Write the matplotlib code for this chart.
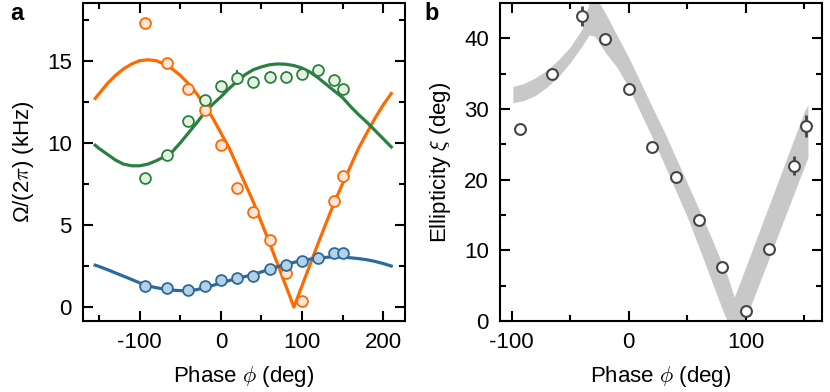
import numpy as np
import matplotlib
matplotlib.use('Agg')
import matplotlib.pyplot as plt

plt.rcParams['font.family'] = ['Liberation Sans', 'DejaVu Sans']
plt.rcParams['mathtext.fontset'] = 'cm'
plt.rcParams['axes.unicode_minus'] = False
plt.rcParams['font.size'] = 16

# ---- panel a: measured points ----
phase_pts = [-93, -66, -40, -20, 0, 20, 40, 60, 80, 100, 120, 140, 150]
orange_pts = [17.3, 14.85, 13.3, 12.0, 9.85, 7.25, 5.78, 4.07, 2.07, 0.36, None, 6.44, 8.0]
orange_err = [0.3, 0.1, 0.1, 0.1, 0.1, 0.1, 0.1, 0.1, 0.1, 0.1, None, 0.1, 0.1]
green_pts = [7.84, 9.24, 11.3, 12.6, 13.45, 13.96, 13.7, 14.0, 14.0, 14.2, 14.45, 13.8, 13.3]
green_err = [0.1, 0.1, 0.1, 0.25, 0.3, 0.45, 0.1, 0.35, 0.35, 0.15, 0.15, 0.2, 0.15]
blue_pts = [1.28, 1.15, 1.03, 1.28, 1.64, 1.76, 1.9, 2.3, 2.57, 2.8, 2.96, 3.28, 3.28]

# ---- panel a: fitted curves ----
phase_fit = [-155, -150, -140, -130, -120, -110, -100, -90, -80, -70, -60, -50,
             -40, -30, -20, -10, 0, 10, 20, 30, 40, 50, 60, 70, 80, 90, 100,
             110, 120, 130, 140, 150, 160, 170, 180, 190, 200, 210]
orange_fit = [12.7, 13.0, 13.6, 14.1, 14.5, 14.8, 15.0, 15.05, 15.0, 14.8, 14.5, 14.1,
              13.6, 13.0, 12.3, 11.5, 10.6, 9.7, 8.6, 7.5, 6.4, 5.15, 3.9, 2.6, 1.3, 0.0, 1.3,
              2.6, 3.9, 5.15, 6.4, 7.5, 8.6, 9.7, 10.6, 11.5, 12.3, 13.0]
green_fit = [9.85, 9.65, 9.3, 8.95, 8.7, 8.6, 8.6, 8.7, 8.9, 9.15, 9.45, 10.0,
             10.6, 11.2, 11.85, 12.35, 12.8, 13.3, 13.75, 14.15, 14.45, 14.62, 14.75, 14.8, 14.78, 14.7, 14.55,
             14.3, 13.95, 13.55, 13.15, 12.75, 12.2, 11.7, 11.25, 10.75, 10.25, 9.75]
blue_fit = [2.55, 2.47, 2.28, 2.08, 1.88, 1.68, 1.47, 1.3, 1.18, 1.1, 1.03, 1.0,
            0.99, 1.06, 1.18, 1.32, 1.47, 1.61, 1.74, 1.86, 1.98, 2.14, 2.3, 2.46, 2.6, 2.72, 2.84,
            2.92, 2.98, 3.03, 3.06, 3.04, 3.0, 2.95, 2.88, 2.78, 2.65, 2.5]

# ---- panel b ----
phase_b = [-93, -66, -40, -20, 0, 20, 40, 60, 80, 100, 120, 141, 151]
ellip = [27.2, 34.9, 43.2, 39.9, 32.8, 24.7, 20.4, 14.3, 7.6, 1.4, 10.2, 22.0, 27.6]
ellip_err = [0.2, 0.2, 1.4, 0.3, 0.2, 0.2, 0.2, 0.2, 0.2, 0.3, 0.2, 1.3, 1.55]

band_phase = [-99, -90, -80, -70, -60, -50, -40, -34, -29, -25, -20, -10, 0, 10, 20, 30,
              40, 50, 60, 70, 80, 84, 90, 95, 100, 110, 120, 130, 140, 150, 153]
band_hi = [33.2, 33.6, 34.4, 35.5, 37.0, 38.8, 41.3, 45.0, 46.7, 45.0, 43.6, 40.4, 37.3, 33.8, 30.3, 26.9,
           23.2, 19.5, 15.8, 12.0, 8.0, 6.5, 3.4, 5.5, 7.7, 12.1, 16.5, 20.9, 25.3, 29.7, 30.6]
band_lo = [30.9, 31.2, 31.9, 33.1, 34.6, 36.6, 38.9, 40.5, 40.3, 39.3, 38.0, 35.9, 33.0, 29.5, 26.0, 22.3,
           18.5, 14.7, 10.4, 6.0, 1.6, 0.0, 0.0, 0.0, 0.4, 4.7, 9.0, 13.3, 17.6, 21.9, 23.2]

c_orange, f_orange = '#ff6a00', '#fde6d8'
c_green, f_green = '#2a8040', '#e4f3e0'
c_blue, f_blue = '#2b6a9b', '#b5d1e6'

fig = plt.figure(figsize=(8.3, 3.92), dpi=100)
ax1 = fig.add_axes([0.1, 0.181, 0.388, 0.811])
ax2 = fig.add_axes([0.6024, 0.181, 0.388, 0.811])

ms = 7.8
ax1.plot(phase_fit, orange_fit, color=c_orange, lw=2.3, zorder=2)
ax1.plot(phase_fit, green_fit, color=c_green, lw=2.3, zorder=2)
ax1.plot(phase_fit, blue_fit, color=c_blue, lw=2.3, zorder=2)

op = [(p, v, e) for p, v, e in zip(phase_pts, orange_pts, orange_err) if v is not None]
ax1.errorbar([a[0] for a in op], [a[1] for a in op], yerr=[a[2] for a in op], fmt='o',
             ms=ms, mfc=f_orange, mec=c_orange, mew=1.3, ecolor=c_orange, elinewidth=1.5, zorder=3)
ax1.errorbar(phase_pts, green_pts, yerr=green_err, fmt='o', ms=ms, mfc=f_green, mec=c_green,
             mew=1.3, ecolor=c_green, elinewidth=1.5, zorder=3)
ax1.plot(phase_pts, blue_pts, 'o', ms=ms, mfc=f_blue, mec=c_blue, mew=1.3, zorder=4)

ax1.set_xlim(-170, 227)
ax1.set_ylim(-0.85, 18.5)
ax1.set_xticks([-100, 0, 100, 200])
ax1.set_xticks(np.arange(-150, 201, 50), minor=True)
ax1.set_yticks([0, 5, 10, 15])
ax1.set_yticks(np.arange(0, 18, 2.5), minor=True)
ax1.set_xlabel(r'Phase $\phi$ (deg)', labelpad=8)
ax1.set_ylabel(r'Ω/(2$\pi$) (kHz)', labelpad=8)

ax2.fill_between(band_phase, band_lo, band_hi, color='#c8c8c8', lw=0, zorder=1)
ax2.errorbar(phase_b, ellip, yerr=ellip_err, fmt='o', ms=ms, mfc='white', mec='#444444',
             mew=1.5, ecolor='#444444', elinewidth=2, zorder=3)
ax2.set_xlim(-110, 165)
ax2.set_ylim(0, 45)
ax2.set_xticks([-100, 0, 100])
ax2.set_xticks(np.arange(-100, 151, 50), minor=True)
ax2.set_yticks([0, 10, 20, 30, 40])
ax2.set_yticks(np.arange(0, 45, 5), minor=True)
ax2.set_xlabel(r'Phase $\phi$ (deg)', labelpad=8)
ax2.set_ylabel(r'Ellipticity $\xi$ (deg)', labelpad=8)

for ax in (ax1, ax2):
    for s in ax.spines.values():
        s.set_linewidth(1.5)
    ax.tick_params(which='both', direction='in', top=True, right=True, width=1.5)
    ax.tick_params(which='major', length=7, pad=8)
    ax.tick_params(which='minor', length=4)

fig.text(0.012, 0.965, 'a', fontsize=17, fontweight='bold', va='center')
fig.text(0.512, 0.965, 'b', fontsize=17, fontweight='bold', va='center')

fig.savefig('out.png', dpi=100)
